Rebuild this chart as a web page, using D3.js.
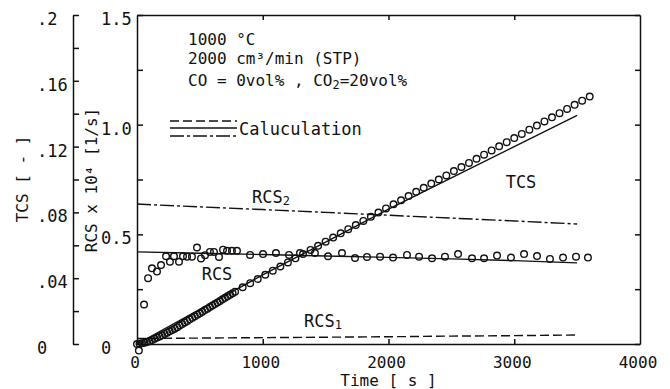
<!DOCTYPE html>
<html>
<head>
<meta charset="utf-8">
<script src="https://cdn.jsdelivr.net/npm/d3@7"></script>
<style>
body { margin: 0; background: #fff; }
text { font-family: "DejaVu Sans Mono", monospace; fill: #111; }
</style>
</head>
<body>
<svg width="670" height="389"></svg>
<script>
var tcsTime = [0, 20, 40, 60, 80, 100, 120, 140, 160, 180, 200, 220, 240, 260, 280, 300, 320, 340, 360, 380,
    400, 420, 440, 460, 480, 500, 520, 540, 560, 580, 600, 620, 640, 660, 680, 700, 720, 740, 760, 780,
    840, 900, 960, 1020, 1080, 1140, 1200, 1260, 1320, 1380, 1440, 1500, 1560, 1620, 1680, 1740, 1800,
    1860, 1920, 1980, 2040, 2100, 2160, 2220, 2280, 2340, 2400, 2460, 2520, 2580, 2640, 2700, 2760,
    2820, 2880, 2940, 3000, 3060, 3120, 3180, 3240, 3300, 3360, 3420, 3480, 3540, 3600];
var tcsObs = [0.0000, 0.0002, 0.0004, 0.0008, 0.0012, 0.0018, 0.0025, 0.0032, 0.0039, 0.0046, 0.0053, 0.0061,
    0.0069, 0.0077, 0.0085, 0.0093, 0.0102, 0.0112, 0.0121, 0.0131, 0.0140, 0.0150, 0.0159, 0.0168, 0.0178,
    0.0187, 0.0196, 0.0206, 0.0215, 0.0225, 0.0234, 0.0243, 0.0253, 0.0262, 0.0272, 0.0281, 0.0290, 0.0300,
    0.0309, 0.0318, 0.0345, 0.0370, 0.0395, 0.0421, 0.0446, 0.0471, 0.0496, 0.0521, 0.0547, 0.0572, 0.0597,
    0.0622, 0.0647, 0.0673, 0.0698, 0.0723, 0.0748, 0.0773, 0.0799, 0.0824, 0.0849, 0.0874, 0.0899, 0.0925,
    0.0950, 0.0975, 0.1000, 0.1025, 0.1051, 0.1076, 0.1101, 0.1126, 0.1151, 0.1177, 0.1202, 0.1227, 0.1252,
    0.1277, 0.1303, 0.1328, 0.1353, 0.1378, 0.1403, 0.1429, 0.1454, 0.1479, 0.1504];

// measured RCS x 10^4 [1/s] (circles)
var rcsTime = [15, 56, 88, 119, 159, 191, 231, 262, 294, 334, 366, 398, 437, 477, 509, 541, 580, 612, 652, 684,
    716, 755, 795, 899, 1002, 1105, 1209, 1296, 1415, 1519, 1630, 1734, 1829, 1933, 2036, 2147, 2243, 2346,
    2449, 2553, 2664, 2760, 2863, 2974, 3078, 3181, 3284, 3388, 3491, 3586];
var rcsObs = [-0.03, 0.18, 0.30, 0.345, 0.33, 0.36, 0.40, 0.375, 0.40, 0.375, 0.40, 0.398, 0.398, 0.44, 0.39,
    0.405, 0.42, 0.42, 0.397, 0.43, 0.425, 0.425, 0.425, 0.406, 0.41, 0.415, 0.406, 0.415, 0.415, 0.40, 0.415,
    0.392, 0.397, 0.398, 0.394, 0.406, 0.398, 0.391, 0.398, 0.41, 0.391, 0.391, 0.403, 0.394, 0.41, 0.401,
    0.388, 0.394, 0.398, 0.394];

// calculation curves
var calcTime = [0, 500, 1000, 1500, 2000, 2500, 3000, 3500];
var tcsCalc = [0, 0.021, 0.042, 0.062, 0.082, 0.101, 0.120, 0.139];
var rcsCalc = [0.420, 0.414, 0.408, 0.401, 0.395, 0.388, 0.380, 0.370];
var rcs1Calc = [0.025, 0.027, 0.029, 0.031, 0.033, 0.036, 0.038, 0.041];
var rcs2Calc = [0.638, 0.625, 0.613, 0.600, 0.587, 0.574, 0.561, 0.547];

var timeTicks = [0, 1000, 2000, 3000, 4000];
var rcsTicks = [0, 0.5, 1.0, 1.5];
var rcsTickLabels = ["0", "0.5", "1.0", "1.5"];
var tcsTicks = [0, 0.04, 0.08, 0.12, 0.16, 0.2];
var tcsTickLabels = ["0", ".04", ".08", ".12", ".16", ".2"];

var svg = d3.select("svg");
var ink = "#111";

var x = d3.scaleLinear().domain([0, 4000]).range([137, 640]);
var yR = d3.scaleLinear().domain([0, 1.5]).range([344, 15]);
var yT = d3.scaleLinear().domain([0, 0.2]).range([344, 15]);

function styleAxis(g) {
    g.select(".domain").attr("stroke", ink).attr("stroke-width", 1.5);
    g.selectAll(".tick line").attr("stroke", ink).attr("stroke-width", 1.5);
    g.selectAll(".tick text").remove();
}

// TCS axis (outer left)
svg.append("g")
    .attr("transform", "translate(73,0)")
    .call(d3.axisRight(yT).tickValues(d3.range(0, 0.2001, 0.02)).tickSize(6).tickSizeOuter(0))
    .call(styleAxis);
svg.append("g").selectAll("text")
    .data(tcsTicks)
    .enter().append("text")
    .attr("x", 37)
    .attr("y", function (d) { return yT(d) + 10; })
    .style("font-size", "17px")
    .text(function (d, i) { return tcsTickLabels[i]; });

// RCS axis (plot left edge)
svg.append("g")
    .attr("transform", "translate(137,0)")
    .call(d3.axisRight(yR).tickValues(d3.range(0, 1.5001, 0.25)).tickSize(6).tickSizeOuter(0))
    .call(styleAxis);
svg.append("g").selectAll("text")
    .data(rcsTicks)
    .enter().append("text")
    .attr("x", 101)
    .attr("y", function (d) { return yR(d) + 10; })
    .style("font-size", "17px")
    .text(function (d, i) { return rcsTickLabels[i]; });

// right edge
svg.append("g")
    .attr("transform", "translate(640,0)")
    .call(d3.axisLeft(yR).tickValues(d3.range(0, 1.5001, 0.25)).tickSize(5).tickSizeOuter(0))
    .call(styleAxis);

// bottom and top edges
svg.append("g")
    .attr("transform", "translate(0,344)")
    .call(d3.axisTop(x).tickValues([1000, 2000, 3000]).tickSize(5).tickSizeOuter(0))
    .call(styleAxis);
svg.append("g")
    .attr("transform", "translate(0,15)")
    .call(d3.axisBottom(x).tickValues([1000, 2000, 3000]).tickSize(5).tickSizeOuter(0))
    .call(styleAxis);

svg.append("g").selectAll("text")
    .data(timeTicks)
    .enter().append("text")
    .attr("x", function (d) { return x(d) - 2; })
    .attr("y", 368)
    .attr("text-anchor", "middle")
    .style("font-size", "16px")
    .text(function (d) { return d; });

svg.append("text")
    .attr("x", x(2000))
    .attr("y", 386)
    .attr("text-anchor", "middle")
    .style("font-size", "16px")
    .text("Time [ s ]");

svg.append("text")
    .attr("transform", "translate(28,179) rotate(-90)")
    .attr("text-anchor", "middle")
    .style("font-size", "16px")
    .text("TCS [ - ]");

svg.append("text")
    .attr("transform", "translate(97,180) rotate(-90)")
    .attr("text-anchor", "middle")
    .style("font-size", "16px")
    .text("RCS x 10⁴ [1/s]");

// calculation lines
function calcLine(vals, yScale) {
    return d3.line()
        .x(function (d, i) { return x(calcTime[i]); })
        .y(function (d) { return yScale(d); })(vals);
}

svg.append("path").attr("d", calcLine(tcsCalc, yT))
    .attr("fill", "none").attr("stroke", ink).attr("stroke-width", 1.4);
svg.append("path").attr("d", calcLine(rcsCalc, yR))
    .attr("fill", "none").attr("stroke", ink).attr("stroke-width", 1.4);
svg.append("path").attr("d", calcLine(rcs1Calc, yR))
    .attr("fill", "none").attr("stroke", ink).attr("stroke-width", 1.4)
    .attr("stroke-dasharray", "9,4");
svg.append("path").attr("d", calcLine(rcs2Calc, yR))
    .attr("fill", "none").attr("stroke", ink).attr("stroke-width", 1.4)
    .attr("stroke-dasharray", "14,3,3,3");

// measured points
svg.append("g").selectAll("circle")
    .data(tcsObs)
    .enter().append("circle")
    .attr("cx", function (d, i) { return x(tcsTime[i]); })
    .attr("cy", function (d) { return yT(d); })
    .attr("r", 3.3)
    .attr("fill", "none").attr("stroke", ink).attr("stroke-width", 1.4);

svg.append("g").selectAll("circle")
    .data(rcsObs)
    .enter().append("circle")
    .attr("cx", function (d, i) { return x(rcsTime[i]); })
    .attr("cy", function (d) { return yR(d); })
    .attr("r", 3.3)
    .attr("fill", "none").attr("stroke", ink).attr("stroke-width", 1.4);

// conditions text
var notes = svg.append("g").style("font-size", "16px");
notes.append("text").attr("x", 188).attr("y", 45).text("1000 °C");
notes.append("text").attr("x", 188).attr("y", 64).text("2000 cm³/min (STP)");
var co = notes.append("text").attr("x", 188).attr("y", 86);
co.append("tspan").text("CO = 0vol% , CO");
co.append("tspan").attr("dy", 3).style("font-size", "12px").text("2");
co.append("tspan").attr("dy", -3).text("=20vol%");

// legend
var legY = [121, 128, 136];
var legDash = ["9,4", null, "14,3,3,3"];
svg.append("g").selectAll("line")
    .data(legY)
    .enter().append("line")
    .attr("x1", 170).attr("x2", 237)
    .attr("y1", function (d) { return d; })
    .attr("y2", function (d) { return d; })
    .attr("stroke", ink).attr("stroke-width", 1.4)
    .attr("stroke-dasharray", function (d, i) { return legDash[i]; });
svg.append("text").attr("x", 239).attr("y", 135).style("font-size", "17px").text("Caluculation");

// curve labels
function curveLabel(cx, by, main, sub) {
    var t = svg.append("text").attr("x", cx).attr("y", by)
        .attr("text-anchor", "middle").style("font-size", "17px");
    t.append("tspan").text(main);
    if (sub) t.append("tspan").attr("dy", 2).style("font-size", "12px").text(sub);
}
curveLabel(271, 203, "RCS", "2");
curveLabel(217, 280, "RCS", null);
curveLabel(323, 327, "RCS", "1");
curveLabel(521, 188, "TCS", null);
</script>
</body>
</html>
